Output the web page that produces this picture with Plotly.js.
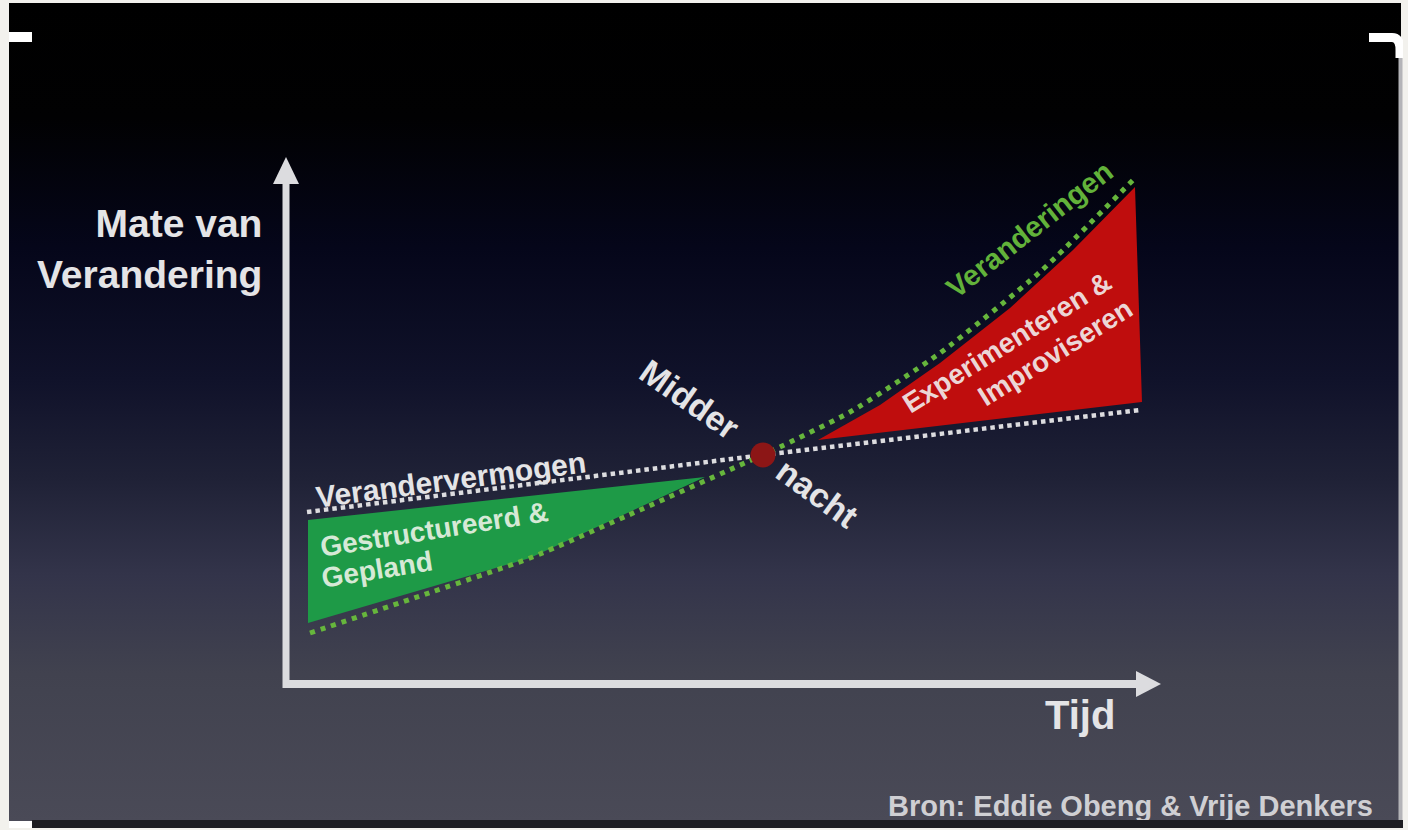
<!DOCTYPE html>
<html>
<head>
<meta charset="utf-8">
<script src="https://cdn.plot.ly/plotly-3.0.1.min.js"></script>
<style>
  html, body { margin: 0; padding: 0; background: #f2f1ed; }
  #wrap { position: relative; width: 1408px; height: 830px; background: #f2f1ed; overflow: hidden; }
  #slide { position: absolute; left: 9px; top: 3px; width: 1392px; height: 818px;
    background: linear-gradient(to bottom, #000000 0%, #010102 14%, #05061a 30%, #10122a 46%, #1f2136 58%, #33344a 70%, #41424f 82%, #4a4a57 100%); }
  #chart { position: absolute; left: 0; top: 0; width: 1408px; height: 830px; }
</style>
</head>
<body>
<div id="wrap">
  <div id="slide"></div>
  <div id="chart"></div>
</div>
<script>
// ---- Data (diagram coordinates: x = tijd, y = mate van verandering, screen-oriented units) ----
const vermogenX = [307, 763, 1140];
const vermogenY = [512, 455, 410];

const veranderingenX = [310, 420, 530, 640, 747, 763, 850, 940, 1040, 1135];
const veranderingenY = [633, 596, 558, 510, 462, 455, 412, 353, 272, 178];

const gestructureerdX = [308, 705, 530, 308];
const gestructureerdY = [520, 477, 558, 623];

const experimenterenX = [818, 880, 940, 1010, 1073, 1135, 1142];
const experimenterenY = [440, 405, 363, 308, 250, 187, 402];

const middernachtX = [763];
const middernachtY = [455];

const labels = {
  yTitle: 'Mate van<br>Verandering',
  xTitle: 'Tijd',
  vermogen: 'Verandervermogen',
  veranderingen: 'Veranderingen',
  green1: 'Gestructureerd &',
  green2: 'Gepland',
  red1: 'Experimenteren &',
  red2: 'Improviseren',
  midder: 'Midder',
  nacht: 'nacht',
  bron: 'Bron: Eddie Obeng & Vrije Denkers'
};

const FONT = 'Liberation Sans, Arial, Helvetica, sans-serif';

const traces = [
  { x: gestructureerdX, y: gestructureerdY, mode: 'lines', fill: 'toself',
    fillcolor: '#1e9a47', line: { width: 0, color: '#1e9a47' }, hoverinfo: 'skip' },
  { x: experimenterenX, y: experimenterenY, mode: 'lines', fill: 'toself',
    fillcolor: '#bf0d0d', line: { width: 0, color: '#bf0d0d' }, hoverinfo: 'skip' },
  { x: vermogenX, y: vermogenY, mode: 'lines',
    line: { color: '#dcdcdf', width: 4.5, dash: '4.5px,4px' }, hoverinfo: 'skip' },
  { x: veranderingenX, y: veranderingenY, mode: 'lines',
    line: { color: '#66b63c', width: 5, dash: '5px,6px', shape: 'spline', smoothing: 0.6 }, hoverinfo: 'skip' },
  { x: middernachtX, y: middernachtY, mode: 'markers',
    marker: { size: 25, color: '#8c1616', line: { width: 0 } }, hoverinfo: 'skip' },
  { x: [1373], y: [809], mode: 'text', text: [labels.bron], textposition: 'middle left',
    textfont: { family: FONT, size: 29, color: '#cfcfd3', weight: 700 }, hoverinfo: 'skip' }
];

function ann(text, x, y, size, color, angle, extra) {
  return Object.assign({
    text: text, x: x, y: y, xref: 'x', yref: 'y', showarrow: false,
    textangle: angle, xanchor: 'center', yanchor: 'middle',
    font: { family: FONT, size: size, color: color, weight: 700 }
  }, extra || {});
}

const annotations = [
  ann(labels.yTitle, 264, 249, 39, '#e4e4e6', 0, { xanchor: 'right', align: 'right' }),
  ann(labels.xTitle, 1080, 715, 40, '#e4e4e6', 0),
  ann(labels.vermogen, 451, 479, 30, '#e4e4e6', -7.5),
  ann(labels.green1, 434, 529, 28, '#d6e9d6', -9),
  ann(labels.green2, 377, 569, 28, '#d6e9d6', -9),
  ann(labels.veranderingen, 1029, 230, 29, '#62b23a', -38),
  ann(labels.red1, 1007, 342, 28, '#ecd6d6', -32),
  ann(labels.red2, 1055, 352, 28, '#ecd6d6', -32),
  ann(labels.midder, 689, 399, 34, '#e4e4e6', 35),
  ann(labels.nacht, 817, 493, 34, '#e4e4e6', 36)
];

const AX = '#dcdcdf';
const shapes = [
  // axes
  { type: 'line', x0: 286, y0: 688, x1: 286, y1: 180, line: { color: AX, width: 7 } },
  { type: 'line', x0: 283, y0: 684, x1: 1140, y1: 684, line: { color: AX, width: 8 } },
  { type: 'path', path: 'M273,184 L286,157 L299,184 Z', fillcolor: AX, line: { width: 0 } },
  { type: 'path', path: 'M1136,671 L1161,684 L1136,697 Z', fillcolor: AX, line: { width: 0 } },
  // slide frame decorations
  { type: 'rect', xref: 'paper', yref: 'paper', x0: 9/1408, x1: 32/1408, y0: 1 - 42/830, y1: 1 - 32/830,
    fillcolor: '#ffffff', line: { width: 0 }, layer: 'above' },
  { type: 'line', x0: 1400.5, y0: 55, x1: 1400.5, y1: 820, line: { color: '#b4b4b8', width: 4 }, layer: 'above' },
  { type: 'path', path: 'M1369,37.5 L1392,37.5 Q1400,37.5 1400,50 L1400,58', line: { color: '#ffffff', width: 9 }, layer: 'above' },
  { type: 'rect', x0: 32, x1: 1408, y0: 820, y1: 828, fillcolor: '#1d1d22', line: { width: 0 }, layer: 'above' },
  { type: 'rect', x0: 9, x1: 32, y0: 821, y1: 830, fillcolor: '#ffffff', line: { width: 0 }, layer: 'above' },
  { type: 'rect', x0: 1403, x1: 1408, y0: 0, y1: 830, fillcolor: '#f2f1ed', line: { width: 0 }, layer: 'above' },
  { type: 'rect', x0: 0, x1: 1408, y0: 828, y1: 830, fillcolor: '#f2f1ed', line: { width: 0 }, layer: 'above' }
];

const layout = {
  width: 1408, height: 830,
  margin: { l: 0, r: 0, t: 0, b: 0, pad: 0 },
  paper_bgcolor: 'rgba(0,0,0,0)', plot_bgcolor: 'rgba(0,0,0,0)',
  showlegend: false,
  xaxis: { range: [0, 1408], visible: false, fixedrange: true },
  yaxis: { range: [830, 0], visible: false, fixedrange: true },
  annotations: annotations,
  shapes: shapes
};

Plotly.newPlot('chart', traces, layout, { displayModeBar: false, staticPlot: true });
</script>
</body>
</html>
